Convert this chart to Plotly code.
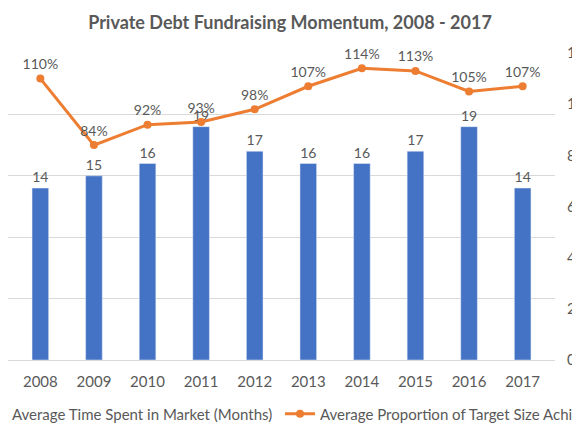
import plotly.graph_objects as go
from plotly.subplots import make_subplots

# data
years = ['2008', '2009', '2010', '2011', '2012', '2013', '2014', '2015', '2016', '2017']
months_in_market = [14, 15, 16, 19, 17, 16, 16, 17, 19, 14]
target_achieved = [1.10, 0.84, 0.92, 0.93, 0.98, 1.07, 1.14, 1.13, 1.05, 1.07]

bar_name = 'Average Time Spent in Market (Months)'
line_name = 'Average Proportion of Target Size Achieved (%)'

grey = '#595959'

fig = make_subplots(specs=[[{"secondary_y": True}]])

# Bars - months spent on the road
fig.add_trace(go.Bar(
    x=years,
    y=months_in_market,
    name=bar_name,
    marker_color='#4472C4',
    text=months_in_market,
    textposition='outside',
    textfont=dict(size=14, color=grey),
    cliponaxis=False,
    showlegend=True,
    legend='legend',
), secondary_y=False)

# Line - share of target raised
fig.add_trace(go.Scatter(
    x=years,
    y=target_achieved,
    name=line_name,
    mode='lines+markers+text',
    line=dict(color='#ED7D31', width=3),
    marker=dict(size=8, color='#ED7D31'),
    text=['{:.0%}'.format(v) for v in target_achieved],
    textposition='top center',
    textfont=dict(size=14, color=grey),
    cliponaxis=False,
    showlegend=True,
    legend='legend2',
), secondary_y=True)

# page body adds an 8px margin, so the figure is sized to the visible window
layout = go.Layout(
    width=572,
    height=427,
    showlegend=True,
    plot_bgcolor='white',
    paper_bgcolor='white',
    font_family='Lato',
    font_color=grey,
    margin=dict(l=0, r=25, t=45, b=75, autoexpand=False),
    bargap=0.69,
    title=dict(
        text='<b>Private Debt Fundraising Momentum, 2008 - 2017</b>',
        x=282 / 572, xref='container', xanchor='center',
        y=1 - 15 / 427, yref='container', yanchor='middle',
        font=dict(size=18, color=grey),
    ),
    legend=dict(
        orientation='h',
        x=-36 / 547, xanchor='left',
        y=-0.176, yanchor='middle',
        font=dict(size=15, color=grey),
        bgcolor='rgba(0,0,0,0)',
    ),
    legend2=dict(
        orientation='h',
        x=272 / 547, xanchor='left',
        y=-0.176, yanchor='middle',
        font=dict(size=15, color=grey),
        bgcolor='rgba(0,0,0,0)',
    ),
)
fig.update_layout(layout)

fig.update_xaxes(
    type='category',
    domain=[0, 1],
    showline=False,
    ticks='',
    ticklabelstandoff=11,
    tickfont=dict(size=15, color=grey),
)
fig.update_yaxes(
    range=[0, 25], dtick=5,
    showticklabels=False,
    gridcolor='#D9D9D9', gridwidth=1,
    zeroline=True, zerolinecolor='#D9D9D9', zerolinewidth=1,
    secondary_y=False,
)
fig.update_yaxes(
    range=[0, 1.2], dtick=0.2, tickformat='.0%',
    showgrid=False, zeroline=False,
    ticklabelstandoff=11,
    tickfont=dict(size=15, color=grey),
    secondary_y=True,
)

fig.write_html("out.html")
